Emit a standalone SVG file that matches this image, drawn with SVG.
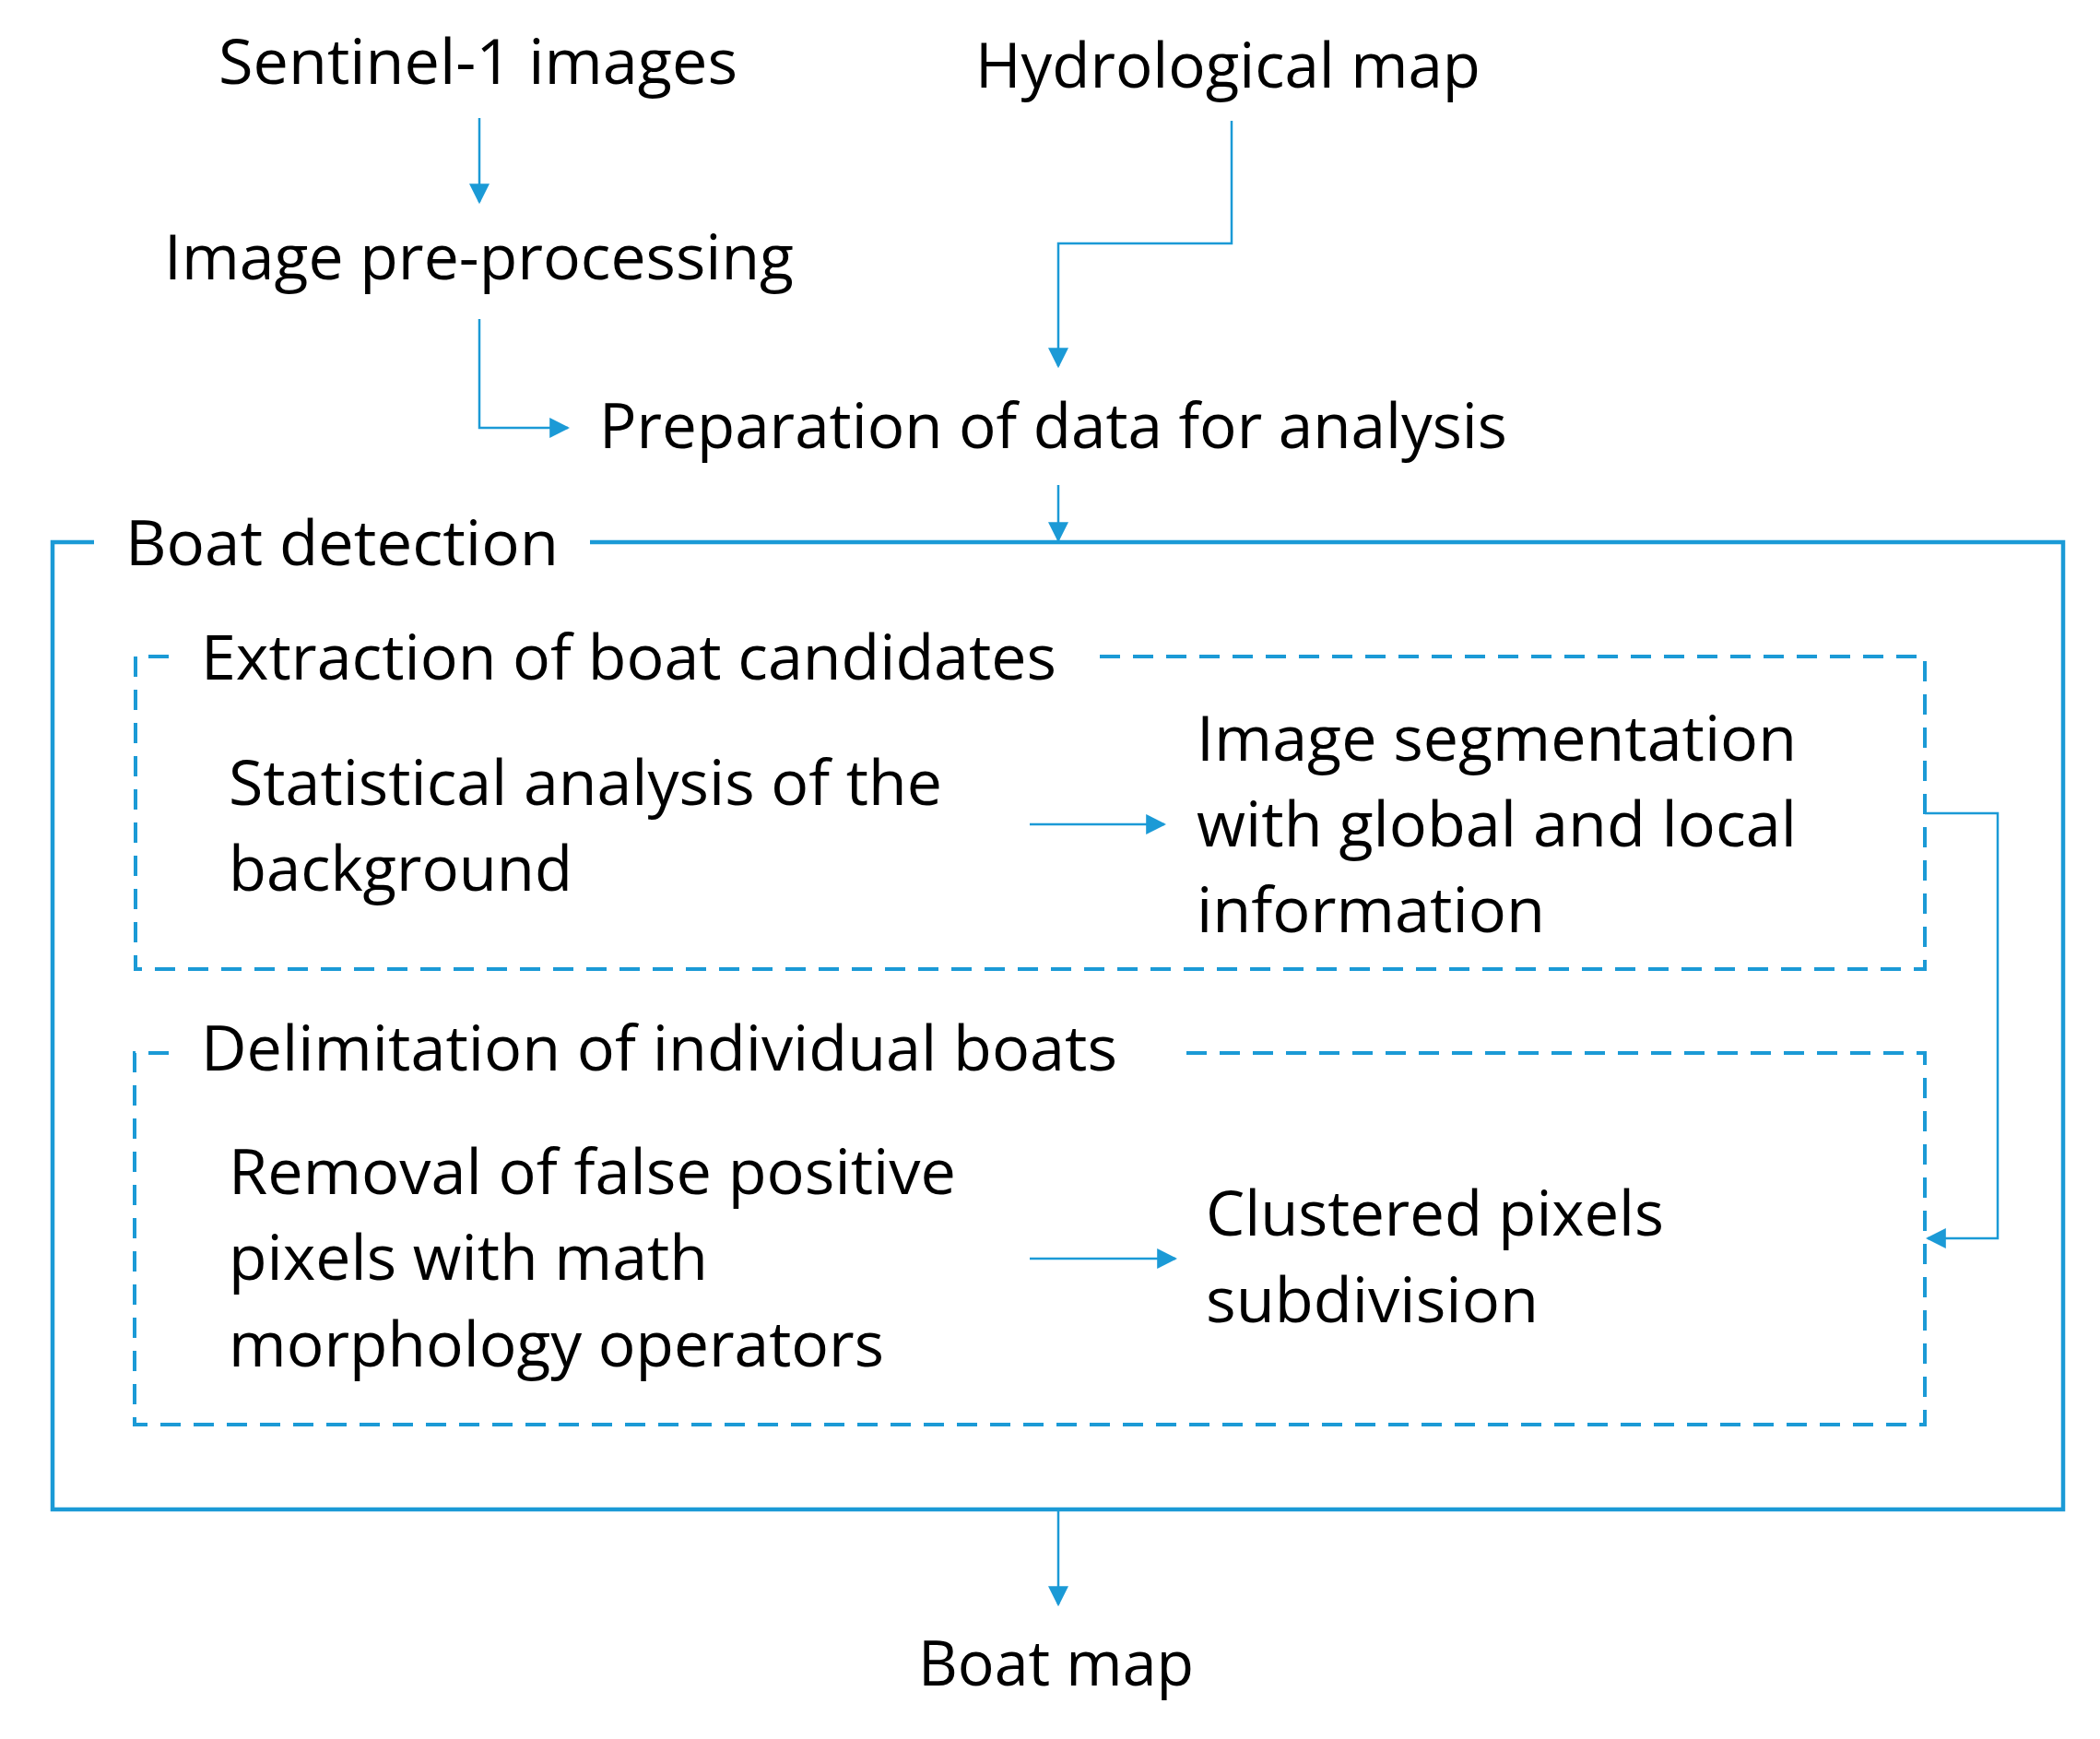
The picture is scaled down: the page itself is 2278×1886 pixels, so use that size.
<svg xmlns="http://www.w3.org/2000/svg" width="2278" height="1886" viewBox="0 0 2278 1886">
<style>
text{font-family:"Open Sans","Liberation Sans",sans-serif;font-size:68px;fill:#000}
.c{fill:none;stroke:#1b9ad6;stroke-width:2.5}
.box{fill:none;stroke:#1b9ad6;stroke-width:4.5}
.dash{fill:none;stroke:#1b9ad6;stroke-width:4;stroke-dasharray:22 14}
</style>
<defs><marker id="a" viewBox="0 0 10 10" refX="9" refY="5" markerWidth="9" markerHeight="9" markerUnits="userSpaceOnUse" orient="auto"><path d="M0,0L10,5L0,10z" fill="#1b9ad6"/></marker>
<marker id="b" viewBox="0 0 10 10" refX="9" refY="5" markerWidth="22" markerHeight="22" markerUnits="userSpaceOnUse" orient="auto"><path d="M0,0L10,5L0,10z" fill="#1b9ad6"/></marker></defs>
<g id="containers">
<path class="box" d="M102,588H57V1637H2238V588H640"/>
<path class="dash" d="M183,712H147V1051H2088V712H1186"/>
<path class="dash" d="M183,1142H146V1545H2088V1142H1273"/>
</g>
<g id="connectors">
<path class="c" marker-end="url(#b)" d="M520,128V219"/>
<path class="c" marker-end="url(#b)" d="M520,346V464H616"/>
<path class="c" marker-end="url(#b)" d="M1336,131V264H1148V397"/>
<path class="c" marker-end="url(#b)" d="M1148,526V586"/>
<path class="c" marker-end="url(#b)" d="M1117,894H1263"/>
<path class="c" marker-end="url(#b)" d="M1117,1365H1275"/>
<path class="c" marker-end="url(#b)" d="M2088,882H2167V1343H2091"/>
<path class="c" marker-end="url(#b)" d="M1148,1637V1740"/>
</g>
<g id="n1"><text x="237" y="91" textLength="563" lengthAdjust="spacingAndGlyphs">Sentinel-1 images</text></g>
<g id="n2"><text x="1058" y="95" textLength="548" lengthAdjust="spacingAndGlyphs">Hydrological map</text></g>
<g id="n3"><text x="178" y="303" textLength="683" lengthAdjust="spacingAndGlyphs">Image pre-processing</text></g>
<g id="n4"><text x="650" y="486" textLength="985" lengthAdjust="spacingAndGlyphs">Preparation of data for analysis</text></g>
<g id="n5"><text x="136" y="613" textLength="470" lengthAdjust="spacingAndGlyphs">Boat detection</text></g>
<g id="n6"><text x="218" y="737" textLength="928" lengthAdjust="spacingAndGlyphs">Extraction of boat candidates</text></g>
<g id="n7"><text x="248" y="873" textLength="774" lengthAdjust="spacingAndGlyphs">Statistical analysis of the</text><text x="248" y="966" textLength="373" lengthAdjust="spacingAndGlyphs">background</text></g>
<g id="n8"><text x="1298" y="825" textLength="651" lengthAdjust="spacingAndGlyphs">Image segmentation</text><text x="1298" y="918" textLength="651" lengthAdjust="spacingAndGlyphs">with global and local</text><text x="1298" y="1011" textLength="378" lengthAdjust="spacingAndGlyphs">information</text></g>
<g id="n9"><text x="218" y="1161" textLength="994" lengthAdjust="spacingAndGlyphs">Delimitation of individual boats</text></g>
<g id="n10"><text x="248" y="1295" textLength="789" lengthAdjust="spacingAndGlyphs">Removal of false positive</text><text x="248" y="1388" textLength="520" lengthAdjust="spacingAndGlyphs">pixels with math</text><text x="248" y="1482" textLength="711" lengthAdjust="spacingAndGlyphs">morphology operators</text></g>
<g id="n11"><text x="1308" y="1340" textLength="497" lengthAdjust="spacingAndGlyphs">Clustered pixels</text><text x="1308" y="1434" textLength="361" lengthAdjust="spacingAndGlyphs">subdivision</text></g>
<g id="n12"><text x="996" y="1828" textLength="299" lengthAdjust="spacingAndGlyphs">Boat map</text></g>
</svg>
